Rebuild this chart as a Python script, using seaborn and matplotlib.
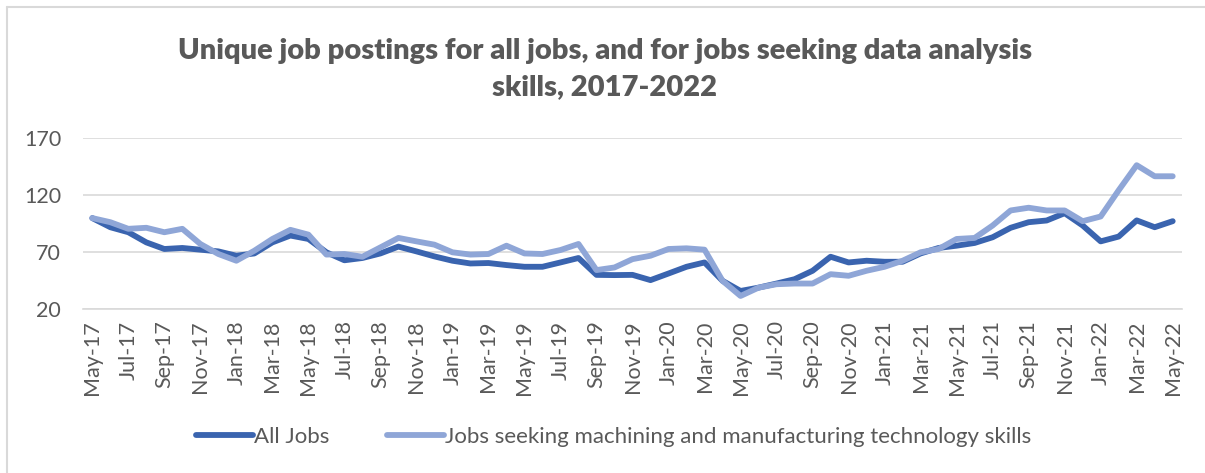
import matplotlib
matplotlib.use("Agg")
import matplotlib.pyplot as plt
from matplotlib.lines import Line2D
import numpy as np
import pandas as pd
import seaborn as sns

# Monthly index values, May 2017 = 100
months = pd.date_range("2017-05-01", periods=61, freq="MS").strftime("%b-%y").tolist()

all_jobs = [100, 92, 87.6, 78.7, 72.9, 73.8, 72.3, 70.8, 67, 69, 78.7, 84.7, 81.7,
            70, 63, 65, 69, 75, 70.8, 66.4, 62.6, 60.2, 60.6, 58.8, 57.3, 57.3,
            61.1, 65, 50.2, 50, 50.2, 45.6, 51.4, 57.3, 61.1, 45, 36.1, 39, 42.6,
            46.4, 53.8, 66.1, 61.1, 62.6, 61.7, 61.7, 69, 73.8, 75.8, 78.2, 83.2,
            91.5, 96.4, 97.9, 104.3, 93.5, 79.6, 83.8, 98, 92, 97.3]

machining_jobs = [100, 96.4, 90.6, 91.5, 87.6, 90.6, 77.3, 68.5, 62.6, 71.4, 81.7,
                  89.7, 85.5, 68, 68.5, 66.1, 74.3, 82.6, 79.6, 76.7, 70, 68, 68.5,
                  75.8, 69, 68.5, 72, 77.3, 54.4, 56.7, 64, 67, 72.9, 73.5, 72.3, 45,
                  31.7, 39, 42, 42.6, 42.6, 50.8, 49.4, 53.8, 57.3, 62.6, 70, 72.9,
                  81.7, 82.6, 93.5, 106.7, 109.1, 106.7, 106.7, 97.3, 101.4, 124.4,
                  146.4, 136.7, 136.7]

series_names = ["All Jobs", "Jobs seeking machining and manufacturing technology skills"]
series_colors = ["#3A64AF", "#8FA6D7"]

df = pd.DataFrame({
    "idx": np.tile(np.arange(len(months)), 2),
    "value": all_jobs + machining_jobs,
    "series": np.repeat(series_names, len(months)),
})

sns.set_theme(style="white")
plt.rcParams["font.family"] = ["Lato", "DejaVu Sans"]

text_color = "#595959"
grid_color = "#D9D9D9"

fig = plt.figure(figsize=(12.05, 4.73), dpi=100)
ax = fig.add_axes([83.3 / 1205, 1 - 309.3 / 473, 1098.4 / 1205, 171.0 / 473])

sns.lineplot(data=df, x="idx", y="value", hue="series", hue_order=series_names,
             palette=series_colors, linewidth=4.2, ax=ax, legend=False,
             solid_joinstyle="round", solid_capstyle="round")

ax.set_xlim(-0.5, len(months) - 0.5)
ax.set_ylim(20, 170)
ax.set_yticks([20, 70, 120, 170])
ax.yaxis.grid(True, color=grid_color, linewidth=1.2)
ax.set_axisbelow(True)

ax.set_xticks(np.arange(0, len(months), 2))
ax.set_xticklabels(months[::2], rotation=90)
ax.set_xticks(np.arange(-0.5, len(months) - 1, 2), minor=True)
ax.tick_params(axis="x", which="major", length=0, pad=8, labelsize=15.5, labelcolor=text_color)
ax.tick_params(axis="x", which="minor", length=6, width=1.2, color=grid_color, direction="out")
ax.tick_params(axis="y", length=0, pad=16, labelsize=15.5, labelcolor=text_color)

ax.set_xlabel("")
ax.set_ylabel("")
for side in ["top", "right", "left"]:
    ax.spines[side].set_visible(False)
ax.spines["bottom"].set_color(grid_color)
ax.spines["bottom"].set_linewidth(1.2)

fig.text(0.502, 1 - 69 / 473,
         "Unique job postings for all jobs, and for jobs seeking data analysis\nskills, 2017-2022",
         ha="center", va="center", fontsize=21, fontweight="heavy", color=text_color,
         linespacing=1.45)

handles = [Line2D([0], [0], color=c, linewidth=4.2, solid_capstyle="round") for c in series_colors]
fig.legend(handles, series_names, loc="center", bbox_to_anchor=(0.509, 1 - 437 / 473),
           ncol=2, frameon=False, fontsize=16, labelcolor=text_color,
           handlelength=2.56, handletextpad=0.05, columnspacing=2.6)

# chart frame
fig.add_artist(Line2D([7 / 1205, 7 / 1205], [0, 1 - 7 / 473], transform=fig.transFigure,
                      color=grid_color, linewidth=1.5))
fig.add_artist(Line2D([7 / 1205, 1], [1 - 7 / 473, 1 - 7 / 473], transform=fig.transFigure,
                      color=grid_color, linewidth=1.5))

fig.savefig("out.png", dpi=100)
